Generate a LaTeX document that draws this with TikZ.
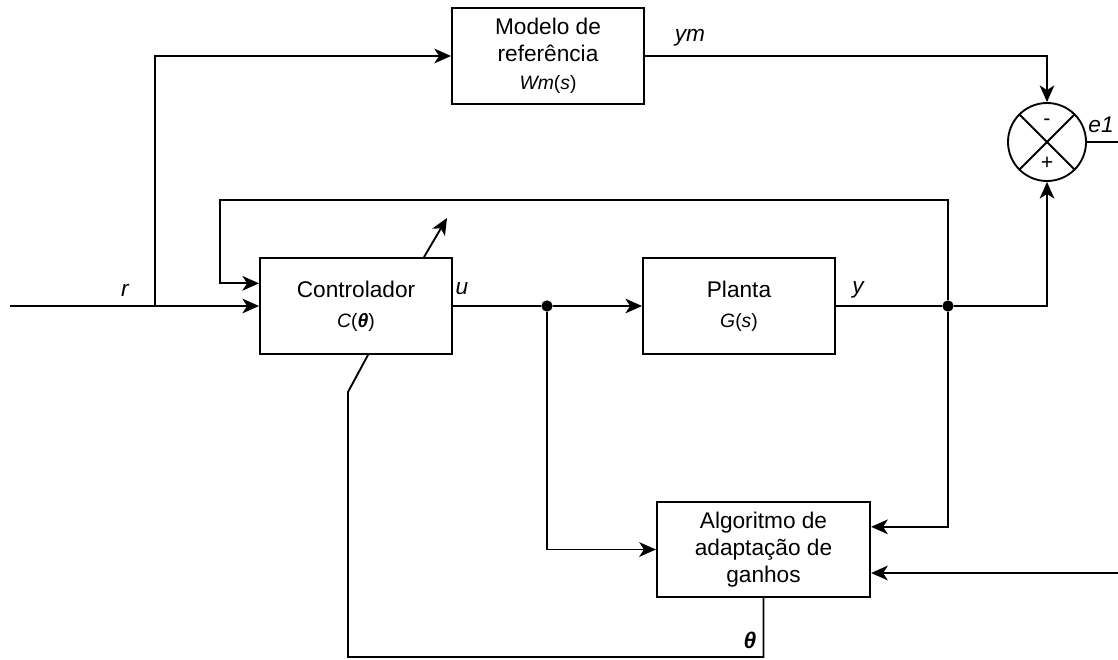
\documentclass[tikz,border=0pt]{standalone}
\usepackage{fontspec}
\setmainfont{Liberation Sans}
\usetikzlibrary{arrows.meta, positioning, calc}
\newcommand{\smalltxt}[1]{{\fontsize{14.5}{16}\selectfont #1}}

\begin{document}
\begin{tikzpicture}[
    x=0.75pt, y=-0.75pt,
    block/.style={rectangle, draw, line width=1.4pt, align=center, inner sep=0pt, font=\fontsize{17}{20}\selectfont},
    sumnode/.style={circle, draw, line width=1.4pt, minimum size=58.5pt, inner sep=0pt},
    dot/.style={circle, fill, inner sep=0pt, minimum size=8.5pt},
    lbl/.style={font=\fontsize{17}{19}\selectfont\itshape},
    sign/.style={font=\fontsize{16}{18}\selectfont},
    arrow/.style={-{Stealth[length=12.5pt, width=11pt, inset=3.5pt]}, line width=1.4pt},
    wire/.style={line width=1.4pt}
]
\useasboundingbox (0,0) rectangle (1118,660);
% blocks
\node[block, minimum width=144pt, minimum height=72pt] (model) at (548,56) {Modelo de\\referência\\[1pt]\smalltxt{\textit{Wm}(\textit{s})}};
\node[block, minimum width=144pt, minimum height=72pt] (ctrl) at (356,306) {Controlador\\[2.5pt]\smalltxt{\textit{C}(\textit{\textbf{θ}})}};
\node[block, minimum width=144pt, minimum height=72pt] (plant) at (739,306) {Planta\\[2.5pt]\smalltxt{\textit{G}(\textit{s})}};
\node[block, minimum width=160pt, minimum height=71pt] (adapt) at (763.5,549.5) {Algoritmo de\\adaptação de\\ganhos};
% summing junction
\node[sumnode] (sum) at (1047,142) {};
\draw[wire] (sum.north west) -- (sum.south east);
\draw[wire] (sum.north east) -- (sum.south west);
\node[sign] (minus) at ($(sum.center)+(0,-20)$) {-};
\node[sign] (plus) at ($(sum.center)+(0,21)$) {+};
% junction points
\coordinate (in) at (10,306);
\coordinate (rsplit) at (155,306);
\node[dot] (ujoin) at (547,306) {};
\node[dot] (yjoin) at (948,306) {};
\coordinate (eout) at (1118,142);
\coordinate (ein) at (1118,573);
\coordinate (tunetip) at (447,218);
% connectors
\draw[wire] (in) -- (rsplit);
\draw[arrow] (rsplit) -- (ctrl.west);
\draw[arrow] (rsplit) |- (model.west);
\draw[arrow] (model.east) -| (sum.north);
\draw[wire] (sum.east) -- (eout);
\draw[wire] (ctrl.east) -- (ujoin);
\draw[arrow] (ujoin) -- (plant.west);
\draw[arrow] (ujoin) |- (adapt.west);
\draw[wire] (plant.east) -- (yjoin);
\draw[arrow] (yjoin) -| (sum.south);
\draw[arrow] (yjoin) |- ([yshift=17pt]adapt.east);
\draw[arrow] (ein) -- (ein -| adapt.east);
\draw[arrow] (yjoin) |- (220,200) |- ([yshift=17pt]ctrl.west);
\draw[arrow] ($(ctrl.north)+(68,0)$) -- (tunetip);
\draw[wire] (adapt.south) |- (348,657) -- (348,392) -- ($(ctrl.south)+(12,0)$);
% signal labels
\node[lbl] (rlbl) at (125,290) {r};
\node[lbl] (ulbl) at (462,289) {u};
\node[lbl] (ylbl) at (858,290) {y};
\node[lbl] (ymlbl) at (690,38) {ym};
\node[lbl] (elbl) at (1101,125) {e1};
\node[lbl] (thlbl) at (750,640) {\textbf{θ}};
\end{tikzpicture}
\end{document}
